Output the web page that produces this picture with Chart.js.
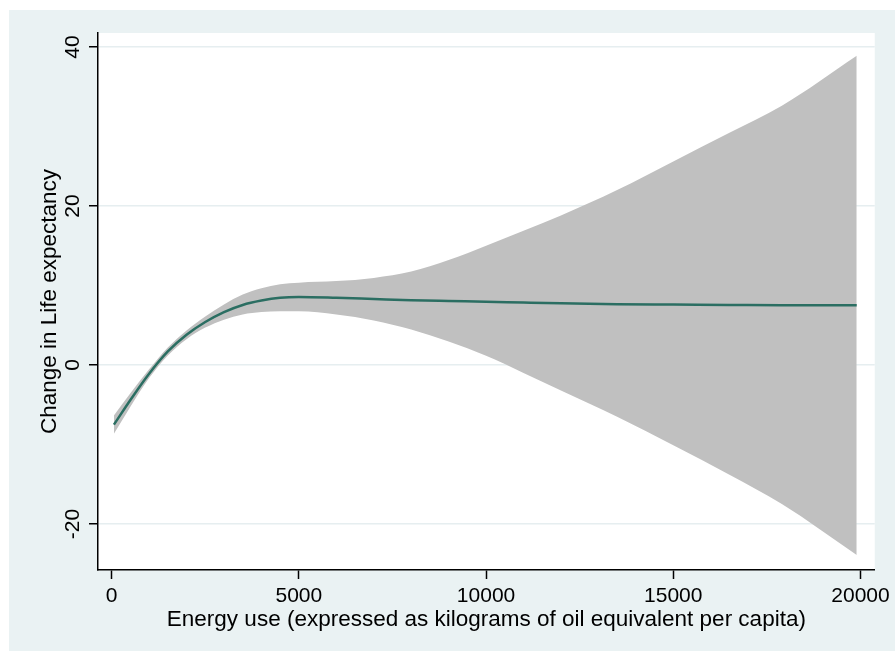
<!DOCTYPE html>
<html>
<head>
<meta charset="utf-8">
<script src="https://cdn.jsdelivr.net/npm/chart.js@4.4.0/dist/chart.umd.min.js"></script>
<style>
  html, body { margin: 0; padding: 0; background: #fff; }
  #wrap { width: 895px; height: 651px; }
</style>
</head>
<body>
<div id="wrap"><canvas id="lifeChart" width="895" height="651"></canvas></div>
<script>
// energy use (kg oil equivalent per capita)
const energyUse = [60, 500, 1000, 1500, 2000, 2500, 3000, 3500, 4000, 4500, 5000, 6000, 7000, 8000, 9000, 10000, 11000, 12000, 13500, 15000, 16500, 17900, 19900];
// fitted change in life expectancy
const fitted = [-7.5, -4.4, -1.1, 1.7, 3.8, 5.4, 6.65, 7.55, 8.1, 8.45, 8.55, 8.45, 8.3, 8.15, 8.05, 7.96, 7.85, 7.75, 7.65, 7.6, 7.55, 7.5, 7.5];
// 95% CI bounds
const ciUpper = [-6.35, -3.55, -0.55, 2.2, 4.35, 6.1, 7.6, 8.85, 9.65, 10.15, 10.35, 10.55, 10.95, 11.75, 13.2, 15.0, 16.9, 18.8, 22.0, 25.6, 29.2, 32.6, 38.9];
const ciLower = [-8.65, -5.25, -1.65, 1.2, 3.25, 4.7, 5.7, 6.35, 6.65, 6.75, 6.75, 6.35, 5.6, 4.45, 2.95, 1.15, -1.0, -3.2, -6.5, -10.1, -13.8, -17.5, -23.9];

const xTicks = [0, 5000, 10000, 15000, 20000];
const yTicks = [-20, 0, 20, 40];

const toPoints = ys => energyUse.map((x, i) => ({ x: x, y: ys[i] }));

const bgPlugin = {
    id: 'stataBg',
    beforeDraw(chart) {
        const ctx = chart.ctx;
        const a = chart.chartArea;
        ctx.save();
        ctx.fillStyle = '#ffffff';
        ctx.fillRect(0, 0, chart.width, chart.height);
        ctx.fillStyle = '#eaf2f3';
        ctx.fillRect(9, 10, chart.width - 9, chart.height - 10);
        ctx.fillStyle = '#ffffff';
        ctx.fillRect(a.left, a.top, a.right - a.left, a.bottom - a.top);
        ctx.restore();
    }
};

const tickFont = { family: 'Arial, "Liberation Sans", sans-serif', size: 21 };
const titleFont = { family: 'Arial, "Liberation Sans", sans-serif', size: 22.5 };

new Chart(document.getElementById('lifeChart'), {
    type: 'line',
    data: {
        datasets: [
            {
                label: 'Fitted values',
                data: toPoints(fitted),
                borderColor: '#2b6e62',
                borderWidth: 2.5,
                pointRadius: 0,
                fill: false,
                cubicInterpolationMode: 'monotone'
            },
            {
                label: '95% CI upper',
                data: toPoints(ciUpper),
                borderWidth: 0,
                borderColor: 'rgba(0,0,0,0)',
                backgroundColor: '#c0c0c0',
                pointRadius: 0,
                fill: '+1',
                cubicInterpolationMode: 'monotone'
            },
            {
                label: '95% CI lower',
                data: toPoints(ciLower),
                borderWidth: 0,
                borderColor: 'rgba(0,0,0,0)',
                pointRadius: 0,
                fill: false,
                cubicInterpolationMode: 'monotone'
            }
        ]
    },
    options: {
        responsive: false,
        animation: false,
        layout: { padding: { top: 33, right: 18, left: 0, bottom: 0 } },
        plugins: {
            legend: { display: false },
            tooltip: { enabled: false }
        },
        scales: {
            x: {
                type: 'linear',
                min: -365,
                max: 20381,
                afterBuildTicks: s => { s.ticks = xTicks.map(v => ({ value: v })); },
                afterFit: s => { s.height = 81; },
                border: { display: true, color: '#000', width: 1.5 },
                grid: { display: true, drawOnChartArea: false, tickColor: '#000', tickLength: 9, tickWidth: 1.5 },
                ticks: { color: '#000', font: tickFont, padding: 5, maxRotation: 0, autoSkip: false, callback: v => String(v) },
                title: {
                    display: true,
                    text: 'Energy use (expressed as kilograms of oil equivalent per capita)',
                    color: '#000',
                    font: titleFont,
                    padding: { top: 0, bottom: 18 }
                }
            },
            y: {
                type: 'linear',
                min: -25.79,
                max: 41.76,
                afterBuildTicks: s => { s.ticks = yTicks.map(v => ({ value: v })); },
                afterFit: s => { s.width = 98; },
                border: { display: true, color: '#000', width: 1.5 },
                grid: { color: '#e6eef0', lineWidth: 1.5, tickColor: '#000', tickLength: 9, tickWidth: 1.5 },
                ticks: { color: '#000', font: tickFont, padding: 1, minRotation: 90, maxRotation: 90, crossAlign: 'center', autoSkip: false, callback: v => String(v) },
                title: {
                    display: true,
                    text: 'Change in Life expectancy',
                    color: '#000',
                    font: titleFont,
                    padding: { top: 36, bottom: 0 }
                }
            }
        }
    },
    plugins: [bgPlugin]
});
</script>
</body>
</html>
